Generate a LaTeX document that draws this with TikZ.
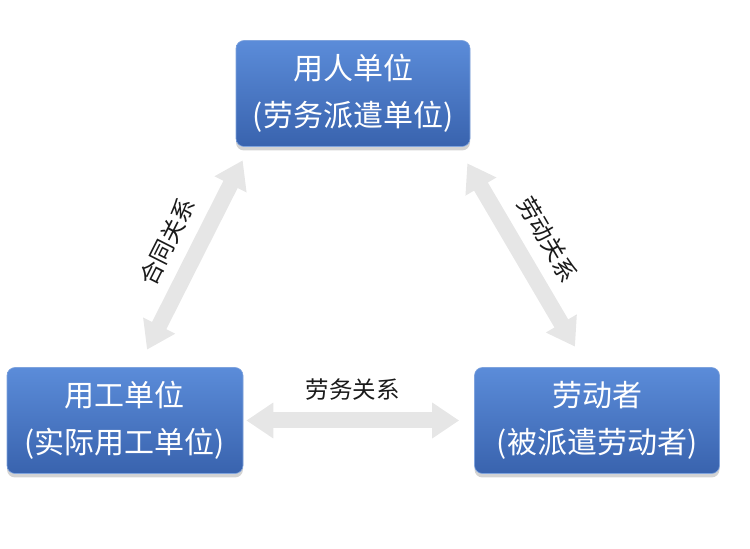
\documentclass[tikz,border=0pt]{standalone}
\usepackage{fontspec}
\setmainfont{Noto Sans CJK SC}
\usetikzlibrary{arrows.meta,shadows}
\definecolor{boxtop}{HTML}{5B8CD9}
\definecolor{boxbottom}{HTML}{3963AE}
\definecolor{boxedge}{HTML}{7FA3DD}
\definecolor{arrowgray}{HTML}{E6E6E6}
\definecolor{labelgray}{HTML}{1A1A1A}
\tikzstyle{unit} = [rounded corners=8pt, top color=boxtop, bottom color=boxbottom, draw=boxedge, line width=0.6pt, text=white, align=center, inner sep=0pt, minimum height=106pt, font=\fontsize{30}{47}\selectfont, drop shadow={shadow xshift=0pt, shadow yshift=-4pt, shadow scale=1, opacity=0.35}]
\tikzstyle{relation} = [draw=arrowgray, line width=16pt, arrows={Triangle[length=27pt,width=34pt]-Triangle[length=27pt,width=34pt]}]
\tikzstyle{rellabel} = [text=labelgray, font=\fontsize{23.5}{23.5}\selectfont, inner sep=0pt]

\begin{document}
\begin{tikzpicture}[x=1pt,y=1pt]
\useasboundingbox (0,0) rectangle (750,549);
\node[unit, minimum width=234pt] (danwei) at (353,455.5) {用人单位\\(劳务派遣单位)};
\node[unit, minimum width=236pt] (yonggong) at (125,128.5) {用工单位\\(实际用工单位)};
\node[unit, minimum width=245pt] (laodongzhe) at (597,128.5) {劳动者\\(被派遣劳动者)};
\draw[relation] ([xshift=3pt]yonggong.east) -- node[rellabel, above=12pt] {劳务关系} ([xshift=-15pt]laodongzhe.west);
\draw[relation] ([shift={(22pt,17.5pt)}]yonggong.north) -- node[rellabel, sloped, above=12pt] {合同关系} ([shift={(7pt,-13.5pt)}]danwei.south west);
\draw[relation] ([shift={(-3pt,-16.5pt)}]danwei.south east) -- node[rellabel, sloped, above=12pt] {劳动关系} ([shift={(-22pt,20.5pt)}]laodongzhe.north);
\end{tikzpicture}
\end{document}
